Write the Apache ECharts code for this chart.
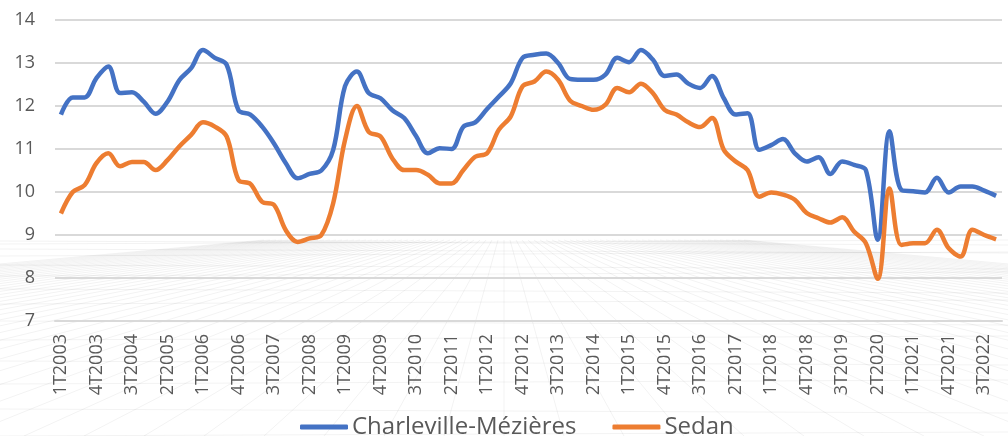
<!DOCTYPE html>
<html>
<head>
<meta charset="utf-8">
<script src="https://cdn.jsdelivr.net/npm/echarts@6/dist/echarts.min.js"></script>
<style>
html,body{margin:0;padding:0;background:#fff;}
#chart{width:1008px;height:436px;}
</style>
</head>
<body>
<div id="chart"></div>
<script>
// Quarter labels 1T2003 .. 4T2022
const years = [];
for (let y = 2003; y <= 2022; y++) years.push(y);
const quarters = [];
years.forEach(y => { for (let q = 1; q <= 4; q++) quarters.push(q + 'T' + y); });

const seriesNames = ['Charleville-Mézières', 'Sedan'];

const charleville = [
  11.8, 12.2, 12.2, 12.65, 12.92, 12.3, 12.32, 12.1, 11.82, 12.1,
  12.6, 12.88, 13.3, 13.12, 12.96, 11.9, 11.8, 11.52, 11.13, 10.67,
  10.32, 10.42, 10.5, 10.98, 12.46, 12.8, 12.3, 12.18, 11.9, 11.72,
  11.3, 10.9, 11.02, 11.0, 11.52, 11.62, 11.93, 12.22, 12.53, 13.12,
  13.19, 13.22, 13.0, 12.63, 12.61, 12.61, 12.73, 13.12, 13.02, 13.3,
  13.08, 12.7, 12.73, 12.52, 12.42, 12.7, 12.18, 11.8, 11.83, 10.98,
  11.09, 11.23, 10.9, 10.71, 10.81, 10.42, 10.71, 10.63, 10.51, 8.89,
  11.41, 10.05, 10.02, 9.99, 10.33, 9.99, 10.13, 10.13, 10.03, 9.91
];

const sedan = [
  9.5, 10.0, 10.16, 10.67, 10.9, 10.6, 10.7, 10.7, 10.51, 10.74,
  11.06, 11.33, 11.62, 11.52, 11.29, 10.28, 10.19, 9.77, 9.7, 9.11,
  8.84, 8.92, 9.0, 9.74, 11.21, 12.0, 11.4, 11.29, 10.78, 10.51,
  10.51, 10.4, 10.2, 10.2, 10.51, 10.82, 10.9, 11.45, 11.76, 12.46,
  12.57, 12.8, 12.61, 12.13, 12.0, 11.91, 12.03, 12.42, 12.32, 12.52,
  12.3, 11.91, 11.8, 11.62, 11.51, 11.72, 10.98, 10.71, 10.51, 9.89,
  9.99, 9.94, 9.82, 9.51, 9.39, 9.29, 9.41, 9.08, 8.81, 7.98,
  10.08, 8.77, 8.81, 8.81, 9.12, 8.69, 8.5, 9.12, 9.0, 8.9
];

const yTicks = [7, 8, 9, 10, 11, 12, 13, 14];

// decorative perspective floor (background texture)
const deco = [];
const W = 1008, H = 436, horizon = 240, vx = 504;
for (let k = -40; k <= 40; k++) {
  deco.push({
    type: 'line', silent: true, z: -10,
    shape: { x1: vx + k * 6, y1: horizon, x2: vx + k * 60, y2: H },
    style: { stroke: 'rgba(0,0,0,0.05)', lineWidth: 1 }
  });
}
for (let j = 1; j <= 14; j++) {
  const t = j / 14;
  const yy = horizon + (H - horizon) * t * t;
  deco.push({
    type: 'line', silent: true, z: -10,
    shape: { x1: 0, y1: yy, x2: W, y2: yy + (j % 2 ? 4 : -4) },
    style: { stroke: 'rgba(0,0,0,0.05)', lineWidth: 1 }
  });
}

const chart = echarts.init(document.getElementById('chart'), null, { renderer: 'canvas' });
chart.setOption({
  animation: false,
  backgroundColor: '#ffffff',
  textStyle: { fontFamily: 'Open Sans' },
  graphic: deco,
  grid: { left: 55, right: 6, top: 20, bottom: 115, containLabel: false },
  legend: {
    data: seriesNames,
    top: 411,
    left: 300,
    padding: 0,
    icon: 'roundRect',
    itemWidth: 48,
    itemHeight: 5,
    itemGap: 36,
    textStyle: { fontSize: 24, lineHeight: 32, color: '#595959', fontFamily: 'Open Sans', padding: [0, 0, 0, -1] }
  },
  xAxis: {
    type: 'category',
    data: quarters,
    boundaryGap: true,
    axisLine: { show: true, lineStyle: { color: '#d9d9d9', width: 2 } },
    axisTick: { show: false },
    axisLabel: {
      interval: 2,
      rotate: 90,
      margin: 13,
      fontSize: 18,
      color: '#595959',
      fontFamily: 'Open Sans'
    }
  },
  yAxis: {
    type: 'value',
    min: yTicks[0],
    max: yTicks[yTicks.length - 1],
    interval: 1,
    axisLine: { show: false },
    axisTick: { show: false },
    splitLine: { lineStyle: { color: '#d9d9d9', width: 2 } },
    axisLabel: { fontSize: 18, color: '#595959', margin: 20, fontFamily: 'Open Sans' }
  },
  series: [
    {
      name: seriesNames[0], type: 'line', data: charleville,
      smooth: 0.35, symbol: 'none',
      lineStyle: { color: '#4472C4', width: 4.5 }, itemStyle: { color: '#4472C4' }
    },
    {
      name: seriesNames[1], type: 'line', data: sedan,
      smooth: 0.35, symbol: 'none',
      lineStyle: { color: '#ED7D31', width: 4.5 }, itemStyle: { color: '#ED7D31' }
    }
  ]
});
</script>
</body>
</html>
